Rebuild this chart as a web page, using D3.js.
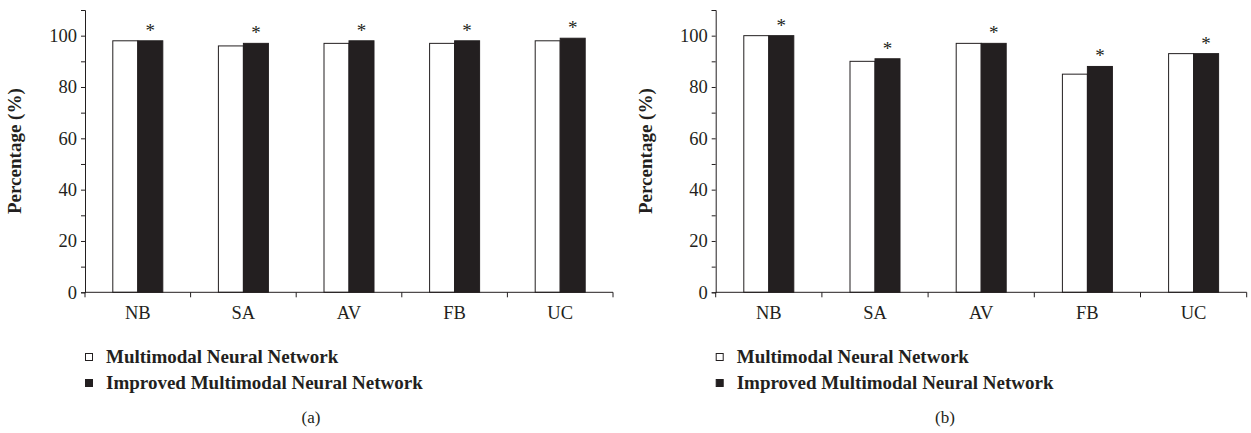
<!DOCTYPE html>
<html>
<head>
<meta charset="utf-8">
<script src="https://cdn.jsdelivr.net/npm/d3@7"></script>
<style>
  body { margin: 0; background: #fff; }
  svg { display: block; }
  text { font-family: "Liberation Serif", "DejaVu Serif", serif; fill: #231f20; }
</style>
</head>
<body>
<div id="chart"></div>
<script>
// Categories and series
const categories = ["NB", "SA", "AV", "FB", "UC"];
const seriesNames = ["Multimodal Neural Network", "Improved Multimodal Neural Network"];

// Panel (a) values
const panelA_base = [98, 96, 97, 97, 98];
const panelA_improved = [98, 97, 98, 98, 99];

// Panel (b) values
const panelB_base = [100, 90, 97, 85, 93];
const panelB_improved = [100, 91, 97, 88, 93];

const yTicks = [0, 10, 20, 30, 40, 50, 60, 70, 80, 90, 100, 110];
const yLabels = [0, 20, 40, 60, 80, 100];

const W = 1251, H = 433;
const ink = "#231f20";

const svg = d3.select("#chart").append("svg")
  .attr("width", W)
  .attr("height", H);

/**
 * Draw one grouped bar panel
 */
function drawPanel(opts) {
  const { left, right, top, bottom, base, improved, caption } = opts;
  const g = svg.append("g");

  const x = d3.scaleBand().domain(categories).range([left, right]).padding(0);
  const bw = x.bandwidth();
  const x1 = d3.scaleBand().domain(seriesNames).range([bw / 2 - 25, bw / 2 + 25]).padding(0);
  const y = d3.scaleLinear().domain([0, 110]).range([bottom, top]);

  const rows = categories.map((c, i) => ({ cat: c, values: [base[i], improved[i]] }));

  // bars
  const grp = g.selectAll("g.cat")
    .data(rows)
    .enter().append("g")
    .attr("class", "cat")
    .attr("transform", d => `translate(${x(d.cat)},0)`);

  grp.selectAll("rect")
    .data(d => d.values.map((v, k) => ({ name: seriesNames[k], v, k })))
    .enter().append("rect")
    .attr("x", d => x1(d.name))
    .attr("y", d => y(d.v))
    .attr("width", x1.bandwidth())
    .attr("height", d => y(0) - y(d.v))
    .attr("fill", d => d.k === 0 ? "#fff" : ink)
    .attr("stroke", ink)
    .attr("stroke-width", 1);

  // significance asterisks over improved bars
  grp.append("text")
    .attr("x", d => x1(seriesNames[1]) + x1.bandwidth() / 2)
    .attr("y", d => y(d.values[1]) - 4)
    .attr("text-anchor", "middle")
    .attr("font-size", 19)
    .text("*");

  // y axis
  const yAxis = d3.axisLeft(y)
    .tickValues(yTicks)
    .tickSize(4)
    .tickPadding(4)
    .tickFormat(d => yLabels.includes(d) ? d : "");
  const ya = g.append("g")
    .attr("transform", `translate(${left},0)`)
    .call(yAxis);
  ya.select(".domain").attr("stroke", ink);
  ya.selectAll(".tick line").attr("stroke", ink);
  ya.selectAll(".tick text")
    .attr("font-size", 18.5)
    .attr("font-family", "Liberation Serif, serif")
    .attr("fill", ink);

  // x axis: ticks at band boundaries
  const boundaries = categories.map(c => x(c)).concat([right]);
  g.append("line")
    .attr("x1", left).attr("x2", right)
    .attr("y1", y(0)).attr("y2", y(0))
    .attr("stroke", ink);
  g.selectAll("line.xt")
    .data(boundaries)
    .enter().append("line")
    .attr("class", "xt")
    .attr("x1", d => d).attr("x2", d => d)
    .attr("y1", y(0)).attr("y2", y(0) + 5)
    .attr("stroke", ink);
  g.selectAll("text.xl")
    .data(categories)
    .enter().append("text")
    .attr("class", "xl")
    .attr("x", d => x(d) + bw / 2)
    .attr("y", y(0) + 27)
    .attr("text-anchor", "middle")
    .attr("font-size", 18.5)
    .text(d => d);

  // y axis title
  g.append("text")
    .attr("transform", `translate(${left - 64},${(top + bottom) / 2}) rotate(-90)`)
    .attr("text-anchor", "middle")
    .attr("font-size", 19)
    .attr("font-weight", "bold")
    .text("Percentage (%)");

  // legend
  const leg = g.selectAll("g.leg")
    .data(seriesNames)
    .enter().append("g")
    .attr("class", "leg")
    .attr("transform", (d, i) => `translate(${left},${357 + i * 26})`);
  leg.append("rect")
    .attr("x", 0.5).attr("y", -3.5)
    .attr("width", 7).attr("height", 7)
    .attr("fill", (d, i) => i === 0 ? "#fff" : ink)
    .attr("stroke", ink);
  leg.append("text")
    .attr("x", 21)
    .attr("y", 5.5)
    .attr("font-size", 19)
    .attr("font-weight", "bold")
    .text(d => d);

  // caption
  g.append("text")
    .attr("x", opts.captionX)
    .attr("y", 423)
    .attr("text-anchor", "middle")
    .attr("font-size", 17)
    .text(caption);
}

drawPanel({ left: 85, right: 613, top: 10, bottom: 292.3,
  base: panelA_base, improved: panelA_improved, caption: "(a)", captionX: 311 });
drawPanel({ left: 715.7, right: 1246.7, top: 10, bottom: 292.3,
  base: panelB_base, improved: panelB_improved, caption: "(b)", captionX: 945 });
</script>
</body>
</html>
